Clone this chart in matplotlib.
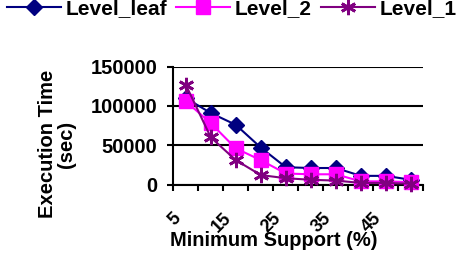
import matplotlib
matplotlib.use("Agg")
import matplotlib.pyplot as plt
import matplotlib.transforms as mtransforms
from matplotlib.ticker import FixedLocator

plt.rcParams['font.family'] = ['Liberation Sans', 'DejaVu Sans']
plt.rcParams['font.weight'] = 'bold'

categories = [5, 10, 15, 20, 25, 30, 35, 40, 45, 50]
level_leaf = [110000, 91000, 76000, 47000, 22000, 21000, 21000, 11000, 11000, 6000]
level_2 = [106000, 78000, 46000, 31000, 14000, 13000, 13000, 4000, 4000, 3000]
level_1 = [127000, 60000, 31000, 12000, 8000, 6000, 5000, 2000, 2000, 1000]
yticks = [0, 50000, 100000, 150000]
ytick_labels = ['0', '50000', '100000', '150000']
xlabel_every = 2

FS = 14.5
fig = plt.figure(figsize=(4.6, 2.62), dpi=100)
ax = fig.add_axes([173.3/460, 77.5/262, 250/460, 117.8/262])

x = list(range(len(categories)))
ax.plot(x, level_leaf, color='#000080', lw=1.5, marker='D', ms=8.5,
        mfc='#000080', mec='#000080', label='Level_leaf', clip_on=False, zorder=3)
ax.plot(x, level_2, color='#FF00FF', lw=1.5, marker='s', ms=10.5,
        mfc='#FF00FF', mec='#FF00FF', label='Level_2', clip_on=False, zorder=4)
ax.plot(x, level_1, color='#800080', lw=1.5, marker=(6, 2, 0), ms=11, mew=2,
        mfc='#800080', mec='#800080', label='Level_1', clip_on=False, zorder=5)

ax.set_xlim(-0.5, len(categories) - 0.5)
ax.set_ylim(0, 150000)

ax.set_yticks(yticks)
ax.set_yticklabels(ytick_labels, fontsize=FS, fontweight='bold')
ax.tick_params(axis='y', direction='out', length=4.5, width=1.5, pad=7)

shown = x[::xlabel_every]
ax.set_xticks(shown)
ax.set_xticklabels([str(categories[i]) for i in shown], fontsize=13,
                   fontweight='bold', rotation=45, ha='right', va='top')
ax.xaxis.set_minor_locator(FixedLocator([i - 0.5 for i in range(len(categories) + 1)]))
ax.tick_params(axis='x', which='major', length=0, pad=18)
ax.tick_params(axis='x', which='minor', direction='out', length=4.5, width=1.5)
offset = mtransforms.ScaledTranslation(-1/100, 0, fig.dpi_scale_trans)
for lab in ax.get_xticklabels():
    lab.set_transform(lab.get_transform() + offset)

ax.grid(axis='y', color='black', lw=1.5)
ax.set_axisbelow(True)
for s in ['top', 'right']:
    ax.spines[s].set_visible(False)
for s in ['left', 'bottom']:
    ax.spines[s].set_linewidth(1.5)

ax.set_xlabel('Minimum Support (%)', fontsize=FS, fontweight='bold')
ax.xaxis.set_label_coords((274 - 173.3)/250, -(250 - 184.5)/117.8)
ax.xaxis.label.set_va('bottom')
ax.set_ylabel('Execution Time\n(sec)', fontsize=FS, fontweight='bold', linespacing=1.0)
ax.yaxis.set_label_coords(-(173.3 - 57)/250, (184.5 - 144)/117.8)
ax.yaxis.label.set_va('center')

LFS = 15
fig.legend(loc='upper left', bbox_to_anchor=(7/460, 1.0 + 1/262), ncol=3, frameon=False,
           prop={'weight': 'bold', 'size': LFS}, handlelength=2.6,
           handletextpad=0.22, columnspacing=0.42, borderpad=0.0, borderaxespad=0.0)

fig.savefig('out.png', dpi=100)
